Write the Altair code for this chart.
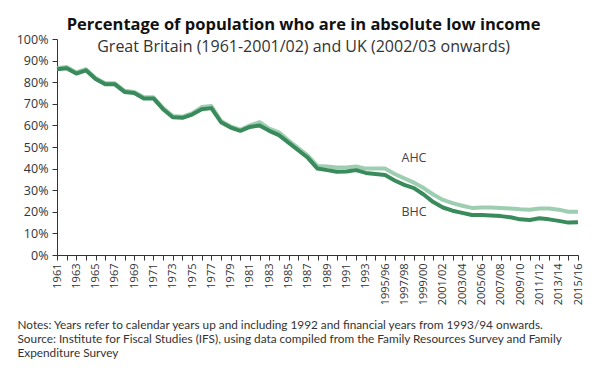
import altair as alt
import pandas as pd

years = [str(y) for y in range(1961, 1994)] + [
    "1994/95", "1995/96", "1996/97", "1997/98", "1998/99", "1999/00", "2000/01",
    "2001/02", "2002/03", "2003/04", "2004/05", "2005/06", "2006/07", "2007/08",
    "2008/09", "2009/10", "2010/11", "2011/12", "2012/13", "2013/14", "2014/15",
    "2015/16"]

bhc = [86, 86.5, 84, 85.5, 81.5, 79, 79, 75.5, 75, 72.5, 72.5, 67.5, 63.8, 63.5,
       65, 67.5, 68, 61.5, 59, 57.5, 59.3, 60, 57.5, 55.5, 52, 48.5, 45, 40,
       39.3, 38.5, 38.7, 39.3, 38, 37.5, 37, 34.5, 32.5, 31, 28, 24.5, 22, 20.5,
       19.5, 18.5, 18.5, 18.3, 18, 17.5, 16.5, 16.2, 17, 16.5, 15.8, 15, 15.2]
ahc = [86.5, 87, 84.5, 86, 82, 79.5, 79.5, 76, 75.5, 73, 73, 68, 64.3, 64,
       65.5, 68.5, 69, 62, 59.5, 58, 60, 61.5, 58.5, 56.8, 53, 49.5, 46, 41.2,
       41, 40.5, 40.5, 41, 40, 40, 40, 37.5, 35.5, 33.5, 31, 28, 25.5, 24,
       22.8, 21.8, 22, 22, 21.8, 21.5, 21.2, 21, 21.5, 21.5, 21, 20, 20]

shown_labels = years[::2]
y_ticks = list(range(0, 101, 10))

series_names = ["AHC", "BHC"]
series_colors = ["#9dceb1", "#3a8b5c"]

label_text = ["AHC", "BHC"]
label_x = ["1998/99", "1998/99"]
label_y = [45, 20]

notes = [
    "Notes: Years refer to calendar years up and including 1992 and financial years from 1993/94 onwards.",
    "Source: Institute for Fiscal Studies (IFS), using data compiled from the Family Resources Survey and Family",
    "Expenditure Survey",
]

df = pd.DataFrame({
    "year": years * 2,
    "value": ahc + bhc,
    "series": ["AHC"] * len(years) + ["BHC"] * len(years),
    "order": list(range(len(years))) * 2,
})
lab = pd.DataFrame({"text": label_text, "year": label_x, "value": label_y})

label_list = "[" + ",".join("'" + s + "'" for s in shown_labels) + "]"

x_axis = alt.Axis(
    title=notes, titleFontSize=11.8, titleFont="Lato", titleFontWeight="normal",
    titleColor="#333", titleAnchor="start", titleAlign="left", titleX=-40,
    titleLineHeight=14, titlePadding=15, titleBaseline="top",
    labelAngle=270, labelFontSize=11, labelFont="Open Sans", labelColor="#333",
    labelExpr="indexof(" + label_list + ", datum.value) >= 0 ? datum.label : ''",
    labelOverlap=False, labelPadding=3, tickSize=5, tickColor="#333",
    domainColor="#333", grid=False)
y_axis = alt.Axis(
    title=None, values=y_ticks, labelExpr="datum.value + '%'",
    labelFontSize=12.5, labelFont="Open Sans", labelColor="#333",
    labelOverlap=False,
    tickSize=5, tickColor="#333", domainColor="#333", grid=False,
    labelPadding=4)
x_scale = alt.Scale(type="point", padding=0)
y_scale = alt.Scale(domain=[0, 100])

lines = alt.Chart(df).mark_line(strokeWidth=4, strokeJoin="round").encode(
    x=alt.X("year:O", sort=years, scale=x_scale, axis=x_axis),
    y=alt.Y("value:Q", scale=y_scale, axis=y_axis),
    color=alt.Color("series:N", scale=alt.Scale(domain=series_names, range=series_colors), legend=None),
    order="order:Q",
)

texts = alt.Chart(lab).mark_text(font="Open Sans", fontSize=12.5, color="#444", align="center").encode(
    x=alt.X("year:O", sort=years, scale=x_scale, axis=x_axis),
    y=alt.Y("value:Q", scale=y_scale, axis=y_axis),
    text="text:N")

chart = alt.layer(lines, texts).properties(
    width=521, height=216,
    title=alt.TitleParams(
        text="Percentage of population who are in absolute low income",
        subtitle="Great Britain (1961-2001/02) and UK (2002/03 onwards)",
        font="Open Sans", fontSize=16.5, fontWeight="bold", color="#111",
        subtitleFont="Open Sans", subtitleFontSize=16, subtitleColor="#333",
        subtitlePadding=6, anchor="middle", frame="bounds", offset=-22, dx=4),
    padding={"left": 8, "top": 8, "right": 5, "bottom": 0},
).configure_view(stroke=None)

chart.save("out.html", embed_options={"renderer": "svg", "actions": False})
